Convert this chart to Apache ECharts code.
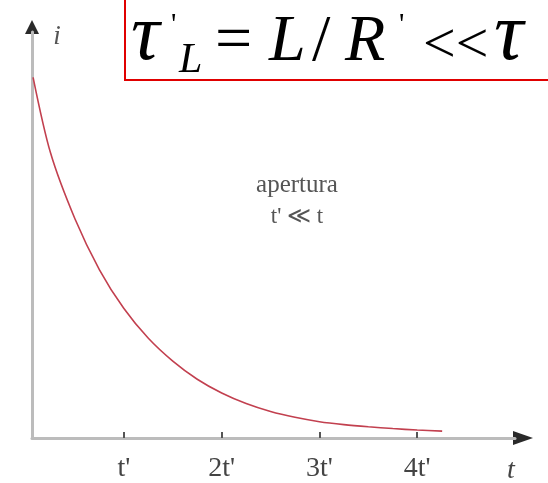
<!DOCTYPE html>
<html>
<head>
<meta charset="utf-8">
<script src="https://cdn.jsdelivr.net/npm/echarts@6/dist/echarts.min.js"></script>
<style>
  html, body { margin: 0; padding: 0; background: #fff; }
  #chart { width: 548px; height: 483px; }
</style>
</head>
<body>
<div id="chart"></div>
<script>
// Current decay after opening the circuit, time in units of t'
const timeValues = [0.071, 0.25, 0.5, 0.75, 1.0, 1.25, 1.5, 1.75, 2.0, 2.25, 2.5, 2.75, 3.0, 3.25, 3.5, 3.75, 4.0, 4.255];
const currentValues = [0.995, 0.786, 0.604, 0.464, 0.357, 0.275, 0.212, 0.162, 0.124, 0.095, 0.073, 0.057, 0.045, 0.037, 0.031, 0.026, 0.022, 0.019];
const tickValues = [1, 2, 3, 4];
const tickLabels = ["t'", "2t'", "3t'", "4t'"];

const points = timeValues.map((t, k) => [t, currentValues[k]]);
const X_MIN = 0.06, X_MAX = 5.0, Y_MAX = 1.12;

const chart = echarts.init(document.getElementById('chart'));
const serif = '"Liberation Serif", "DejaVu Serif", serif';

chart.setOption({
  animation: false,
  backgroundColor: '#fff',
  grid: { left: 32, right: 33, top: 32, bottom: 43 },
  xAxis: {
    type: 'value', min: X_MIN, max: X_MAX,
    axisLine: { show: true, lineStyle: { color: '#bcbcbc', width: 3 } },
    axisTick: { show: true, inside: true, length: 6, customValues: tickValues, lineStyle: { color: '#555', width: 2 } },
    axisLabel: {
      customValues: tickValues, margin: 17,
      formatter: v => tickLabels[tickValues.indexOf(Math.round(v))] || '',
      fontFamily: serif, fontSize: 28, color: '#444'
    },
    splitLine: { show: false }
  },
  yAxis: {
    type: 'value', min: 0, max: Y_MAX,
    axisLine: { show: true, lineStyle: { color: '#bcbcbc', width: 3 } },
    axisTick: { show: false }, axisLabel: { show: false }, splitLine: { show: false }
  },
  series: [{
    type: 'line', data: points, smooth: 0.3, symbol: 'none',
    lineStyle: { color: '#c2404f', width: 1.6 }
  }]
});

// Arrow heads, axis names and annotations placed from the grid coordinates
const xEnd = chart.convertToPixel({ gridIndex: 0 }, [X_MAX, 0]);
const yEnd = chart.convertToPixel({ gridIndex: 0 }, [X_MIN, Y_MAX]);

const formulaParts = [
  { text: 'τ', x: 131, y: 78, size: 80, style: 'italic' },
  { text: "'", x: 171, y: 40, size: 30, style: 'normal' },
  { text: 'L', x: 179, y: 82, size: 42, style: 'italic' },
  { text: '=', x: 215, y: 76, size: 66, style: 'normal' },
  { text: 'L', x: 269, y: 76, size: 66, style: 'italic' },
  { text: '/', x: 312, y: 76, size: 66, style: 'normal' },
  { text: 'R', x: 345, y: 76, size: 66, style: 'italic' },
  { text: "'", x: 399, y: 40, size: 30, style: 'normal' },
  { text: '<<', x: 423, y: 76, size: 58, style: 'normal' },
  { text: 'τ', x: 494, y: 78, size: 82, style: 'italic' }
];

chart.setOption({
  graphic: [
    { type: 'polygon', shape: { points: [[xEnd[0] - 2, xEnd[1] - 7], [xEnd[0] + 18, xEnd[1]], [xEnd[0] - 2, xEnd[1] + 7]] }, style: { fill: '#2a2a2a' } },
    { type: 'polygon', shape: { points: [[yEnd[0] - 7, yEnd[1] + 2], [yEnd[0], yEnd[1] - 12], [yEnd[0] + 7, yEnd[1] + 2]] }, style: { fill: '#2a2a2a' } },
    { type: 'text', x: 57, y: 37, style: { text: 'i', fontFamily: serif, fontStyle: 'italic', fontSize: 27, fill: '#555', align: 'center', verticalAlign: 'middle' } },
    { type: 'text', x: 511, y: 471, style: { text: 't', fontFamily: serif, fontStyle: 'italic', fontSize: 28, fill: '#444', align: 'center', verticalAlign: 'middle' } },
    { type: 'text', x: 297, y: 185, style: { text: 'apertura', fontFamily: serif, fontSize: 25, fill: '#555', align: 'center', verticalAlign: 'middle' } },
    { type: 'text', x: 297, y: 217, style: { text: "t' ≪ t", fontFamily: serif, fontSize: 23, fill: '#555', align: 'center', verticalAlign: 'middle' } },
    { type: 'rect', shape: { x: 125, y: -5, width: 440, height: 85 }, style: { fill: 'none', stroke: '#e00000', lineWidth: 2 } }
  ].concat(formulaParts.map(p => ({
    type: 'text', x: p.x, y: p.y,
    style: { text: p.text, fontFamily: serif, fontStyle: p.style, fontSize: p.size, fill: '#000', align: 'left', verticalAlign: 'bottom' }
  })))
});
</script>
</body>
</html>
